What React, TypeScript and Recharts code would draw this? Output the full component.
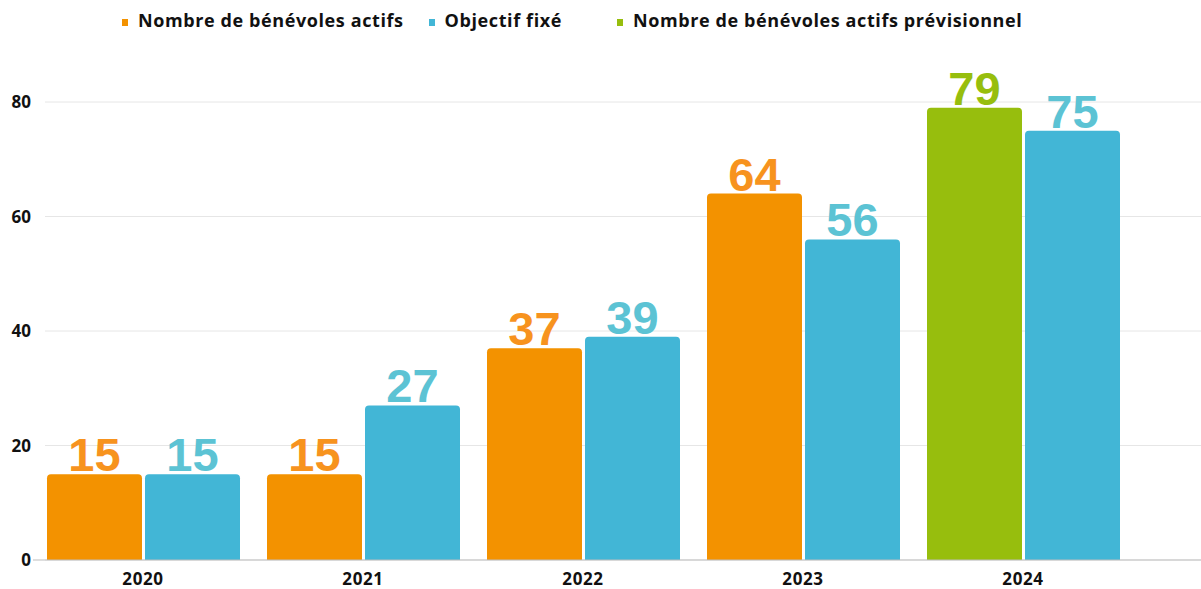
import { Bar, BarChart, CartesianGrid, LabelList, Legend, XAxis, YAxis } from "recharts";

const years = ["2020", "2021", "2022", "2023", "2024"];
const actifs = [15, 15, 37, 64, null];
const objectif = [15, 27, 39, 56, 75];
const previsionnel = [null, null, null, null, 79];
const yTicks = [0, 20, 40, 60, 80];

const ORANGE = "#F39200";
const BLUE = "#42B6D6";
const GREEN = "#97BE0D";

const data = years.map((year, i) => ({
  year,
  actifs: actifs[i],
  objectif: objectif[i],
  previsionnel: previsionnel[i],
}));

const legendItems = [
  { label: "Nombre de bénévoles actifs", color: ORANGE, gap: 25 },
  { label: "Objectif fixé", color: BLUE, gap: 55 },
  { label: "Nombre de bénévoles actifs prévisionnel", color: GREEN, gap: 0 },
];

function makeLabel(color: string) {
  return (props: any) => {
    const { x, y, width, value } = props;
    if (value == null || value === 0) return null;
    return (
      <text
        x={Number(x) + Number(width) / 2}
        y={Number(y) - 3}
        textAnchor="middle"
        fill={color}
        fontFamily="'Liberation Sans', Arial, sans-serif"
        fontWeight={700}
        fontSize={47}
      >
        {value}
      </text>
    );
  };
}

function LegendContent() {
  return (
    <div
      style={{
        display: "flex",
        alignItems: "center",
        height: 24,
        paddingLeft: 122,
        fontFamily: "'Open Sans', sans-serif",
        fontWeight: 700,
        fontSize: 18,
        letterSpacing: 0.6,
        color: "#111",
      }}
    >
      {legendItems.map((item) => (
        <div
          key={item.label}
          style={{ display: "flex", alignItems: "center", marginRight: item.gap }}
        >
          <span
            style={{
              display: "inline-block",
              width: 6,
              height: 7,
              background: item.color,
              marginRight: 10,
              marginTop: 4,
            }}
          />
          <span>{item.label}</span>
        </div>
      ))}
    </div>
  );
}

function GridLine(props: any) {
  const { x1, x2, y1, y2 } = props;
  return <line x1={x1 + 12} x2={x2} y1={y1} y2={y2} stroke="#e6e6e6" strokeWidth={1} />;
}

const tickStyle = {
  fill: "#111",
  fontFamily: "'Open Sans', sans-serif",
  fontWeight: 700,
  fontSize: 17,
};

export default function App() {
  return (
    <div style={{ position: "absolute", left: 0, top: 0, background: "#fff" }}>
      <BarChart
        width={1201}
        height={589}
        data={data}
        margin={{ top: 78, right: 0, bottom: 0, left: 0 }}
        barGap={3}
        barSize={95}
      >
        <CartesianGrid vertical={false} horizontal={GridLine} />
        <XAxis
          dataKey="year"
          height={29}
          padding={{ left: 0, right: 68 }}
          tickLine={false}
          tickSize={6}
          tickMargin={7}
          axisLine={{ stroke: "#bdbdbd" }}
          tick={{ ...tickStyle, letterSpacing: 0.6 }}
        />
        <YAxis
          width={33}
          domain={[0, 80]}
          ticks={yTicks}
          tickLine={false}
          axisLine={false}
          tickSize={0}
          tickMargin={2}
          tick={tickStyle}
        />
        <Legend verticalAlign="top" wrapperStyle={{ top: 8, left: 0, width: 1201 }} content={LegendContent} />
        <Bar dataKey="actifs" stackId="a" fill={ORANGE} radius={[4, 4, 0, 0]} isAnimationActive={false}>
          <LabelList dataKey="actifs" content={makeLabel("#F7931E")} />
        </Bar>
        <Bar dataKey="objectif" fill={BLUE} radius={[4, 4, 0, 0]} isAnimationActive={false}>
          <LabelList dataKey="objectif" content={makeLabel("#5CC3D4")} />
        </Bar>
        <Bar dataKey="previsionnel" stackId="a" fill={GREEN} radius={[4, 4, 0, 0]} isAnimationActive={false}>
          <LabelList dataKey="previsionnel" content={makeLabel(GREEN)} />
        </Bar>
      </BarChart>
    </div>
  );
}
